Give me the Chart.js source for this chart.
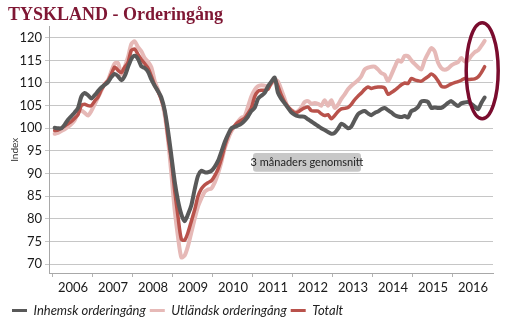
<!DOCTYPE html>
<html>
<head>
<meta charset="utf-8">
<script src="https://cdn.jsdelivr.net/npm/chart.js@4.4.0/dist/chart.umd.min.js"></script>
<style>
  html, body { margin: 0; padding: 0; background: #fff; }
</style>
</head>
<body>
<canvas id="chart" width="514" height="332"></canvas>
<script>
// månadsvärden jan 2006 - okt 2016, 3 månaders glidande medel
const startYear = 2006;
const years = [2006, 2007, 2008, 2009, 2010, 2011, 2012, 2013, 2014, 2015, 2016];
const yTicks = [70, 75, 80, 85, 90, 95, 100, 105, 110, 115, 120];

const inhemsk = [
  100.1, 100.0, 100.0, 100.8, 101.9, 102.7, 103.5, 104.5, 107.0, 107.8, 107.3, 106.6,
  107.3, 108.2, 109.0, 109.6, 110.2, 111.3, 112.0, 111.5, 110.6, 111.5, 113.5, 115.3,
  116.0, 115.3, 113.7, 113.3, 112.5, 110.8, 109.4, 108.2, 106.8, 104.0, 99.5, 94.0,
  88.3, 84.0, 81.0, 79.5, 81.0, 83.0, 86.5, 89.5, 90.6, 90.3, 90.3, 90.6,
  91.5, 92.8, 94.8, 96.9, 98.6, 100.0, 100.3, 100.6, 101.0, 101.7, 102.6, 103.8,
  104.5, 106.5, 107.2, 107.8, 109.3, 110.3, 111.2, 107.8, 106.5, 105.5, 104.5, 103.5,
  103.0, 102.7, 102.6, 102.5, 102.0, 101.5, 101.0, 100.5, 100.0, 99.6, 99.2, 98.8,
  99.0, 99.9, 101.0, 100.6, 100.0, 100.4, 101.8, 103.1, 103.6, 103.8, 103.3, 102.9,
  103.4, 103.7, 104.2, 104.5, 104.0, 103.5, 102.9, 102.6, 102.5, 102.7, 102.4, 103.8,
  104.1, 104.7, 105.9, 106.0, 105.8, 104.5, 104.6, 104.5, 104.5, 105.0, 105.6, 106.0,
  105.4, 104.9, 105.5, 105.7, 105.8, 105.4, 104.8, 104.2, 105.6, 106.8
];

const utlandsk = [
  98.8, 99.0, 99.4, 99.8, 100.3, 100.9, 101.8, 103.4, 103.9, 103.4, 102.8, 103.8,
  105.3, 106.8, 108.3, 109.8, 110.6, 112.6, 114.3, 114.4, 111.9, 113.5, 115.7, 118.6,
  119.2, 117.9, 117.0, 115.5, 114.7, 113.5, 110.5, 108.5, 106.4, 103.0, 97.5, 90.0,
  82.0, 76.0, 71.5, 71.9, 74.0, 77.0, 80.0, 82.7, 84.5, 86.0, 86.5, 86.7,
  88.0, 90.0, 92.5, 95.5, 97.6, 99.3, 100.5, 101.5, 102.3, 102.7, 104.8, 107.0,
  108.5, 109.3, 109.5, 109.4, 109.3, 109.8, 110.8, 110.3, 108.5, 106.5, 104.6, 104.0,
  103.6, 103.8, 104.6, 105.8, 106.0, 105.4, 105.6, 105.4, 105.0, 106.2, 105.0, 106.2,
  104.5, 105.2, 106.5, 107.5, 108.6, 109.4, 110.0, 110.6, 111.5, 113.0, 113.4, 113.6,
  113.6, 113.0, 112.2, 111.8, 110.4, 111.8, 113.5, 115.0, 114.7, 116.0, 115.9, 115.0,
  114.2, 113.5, 113.0, 115.0, 116.5, 117.7, 117.0, 114.5, 113.3, 112.9, 113.2, 113.9,
  114.3, 114.6, 115.5, 114.8, 115.0, 116.0, 116.8, 117.2, 118.2, 119.3
];

const totalt = [
  99.5, 99.6, 100.0, 100.5, 101.0, 101.5, 102.2, 103.0, 105.0, 105.3, 105.0, 105.0,
  106.0, 106.9, 108.5, 109.7, 110.5, 112.0, 113.5, 112.8, 112.3, 113.5, 114.5, 117.2,
  117.5, 116.3, 115.2, 114.3, 113.3, 111.5, 109.5, 108.1, 106.3, 103.8, 98.0, 93.0,
  86.3, 80.5, 75.5, 75.3, 77.0, 79.5, 82.0, 85.0, 86.6, 87.5, 88.0, 88.4,
  89.5, 91.0, 93.2, 96.0, 98.3, 99.7, 100.6, 101.3, 101.8, 102.2, 103.3, 104.5,
  107.0, 108.2, 108.4, 108.4, 108.6, 110.0, 110.9, 109.3, 107.3, 105.8, 104.8, 104.0,
  103.4, 103.6, 104.1, 104.5, 104.7, 103.9, 103.8, 103.8, 103.2, 102.8, 103.0, 102.1,
  102.8, 103.7, 104.3, 104.4, 104.6, 105.3, 106.3, 107.1, 107.8, 108.6, 109.1, 108.8,
  109.0, 109.1, 109.1, 108.9, 107.5, 107.9, 108.4, 109.0, 109.6, 110.0, 109.9, 111.0,
  110.7, 110.5, 110.4, 110.9, 111.4, 112.0, 111.5, 110.5, 109.3, 109.1, 109.4, 109.8,
  110.1, 110.3, 110.6, 111.0, 110.8, 110.8, 110.9, 111.3, 112.3, 113.6
];

const toPoints = arr => arr.map((v, i) => ({ x: startYear + (i + 0.5) / 12, y: v }));

const font = 'Lato';

// rutan "3 månaders genomsnitt" och ringen runt slutet
const notes = {
  id: 'notes',
  afterDraw(chart) {
    const { ctx, scales: { x, y } } = chart;
    ctx.save();
    const l = x.getPixelForValue(2011.0), r = x.getPixelForValue(2013.7);
    const t = y.getPixelForValue(94.55), b = y.getPixelForValue(90.4);
    ctx.fillStyle = '#c8c8c8';
    ctx.beginPath();
    ctx.roundRect(l, t, r - l, b - t, 3);
    ctx.fill();
    ctx.fillStyle = '#222';
    ctx.font = '11px ' + font;
    ctx.textAlign = 'center';
    ctx.textBaseline = 'middle';
    ctx.fillText('3 månaders genomsnitt', (l + r) / 2, (t + b) / 2 + 0.5);

    const cx = x.getPixelForValue(2016.73), cy = y.getPixelForValue(112.7);
    ctx.strokeStyle = '#7a0c2e';
    ctx.lineWidth = 3.5;
    ctx.beginPath();
    ctx.ellipse(cx, cy, 16, 48, 0, 0, Math.PI * 2);
    ctx.stroke();
    ctx.restore();
  }
};

new Chart(document.getElementById('chart'), {
  type: 'line',
  data: {
    datasets: [
      { label: 'Inhemsk orderingång', data: toPoints(inhemsk), borderColor: '#595959', backgroundColor: '#595959', borderWidth: 4, order: 0 },
      { label: 'Utländsk orderingång', data: toPoints(utlandsk), borderColor: '#e6b9b7', backgroundColor: '#e6b9b7', borderWidth: 4, order: 2 },
      { label: 'Totalt', data: toPoints(totalt), borderColor: '#b9524b', backgroundColor: '#b9524b', borderWidth: 3.5, order: 1 }
    ]
  },
  options: {
    responsive: false,
    animation: false,
    devicePixelRatio: 1,
    elements: {
      point: { radius: 0 },
      line: { tension: 0.25, borderCapStyle: 'round', borderJoinStyle: 'round' }
    },
    layout: { padding: { left: 8, right: 21, top: 0, bottom: 5 } },
    scales: {
      x: {
        type: 'linear', min: 2005.9, max: 2017,
        afterBuildTicks: s => { s.ticks = years.map(v => ({ value: v })); },
        afterFit: s => { s.height = 27; },
        grid: { drawOnChartArea: false, drawTicks: true, tickLength: 4, color: '#b4b4b4' },
        border: { color: '#a8a8a8' },
        ticks: { autoSkip: false, maxRotation: 0, labelOffset: 20, padding: 3, color: '#1a1a1a', font: { family: font, size: 13 }, callback: v => String(v) }
      },
      y: {
        min: 68.05, max: 122.45,
        afterBuildTicks: s => { s.ticks = yTicks.map(v => ({ value: v })); },
        afterFit: s => { s.width = 41; },
        grid: { color: '#c6c6c6', tickLength: 4 },
        border: { color: '#a8a8a8' },
        ticks: { padding: 3, color: '#1a1a1a', font: { family: font, size: 13 } },
        title: { display: true, text: 'Index', color: '#333', font: { family: font, size: 10 }, padding: { top: 1, bottom: 0 } }
      }
    },
    plugins: {
      title: {
        display: true, text: 'TYSKLAND - Orderingång', align: 'start', color: '#7f1734',
        font: { family: 'Liberation Serif', size: 18, weight: 'bold' }, padding: { top: 5, bottom: 0 }
      },
      legend: {
        position: 'bottom', align: 'start',
        labels: {
          boxWidth: 15, boxHeight: 3, padding: 4, color: '#222',
          font: { family: font, size: 13, style: 'italic' },
          sort: (a, b) => a.datasetIndex - b.datasetIndex,
          generateLabels: chart => Chart.defaults.plugins.legend.labels.generateLabels(chart).map(it => ({ ...it, lineWidth: 0 }))
        }
      },
      tooltip: { enabled: false }
    }
  },
  plugins: [notes]
});
</script>
</body>
</html>
